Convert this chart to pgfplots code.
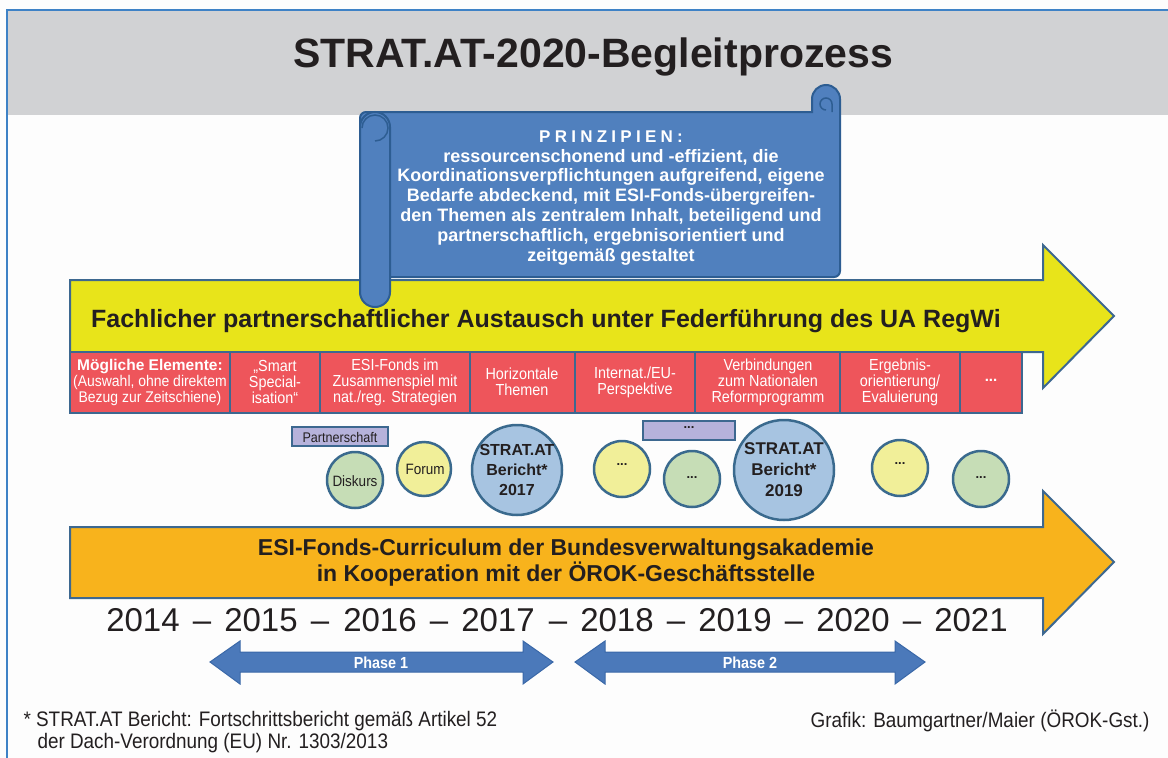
\documentclass[border=0pt]{standalone}
\usepackage{fontspec}
\setmainfont{Liberation Sans}
\newfontfamily\cond[FakeStretch=0.9]{Liberation Sans}
\usepackage{pgfplots}
\pgfplotsset{compat=1.18}
\definecolor{bg}{HTML}{FDFDFD}
\definecolor{hdr}{HTML}{D1D2D4}
\definecolor{frame}{HTML}{3E82C6}
\definecolor{txt}{HTML}{231F20}
\definecolor{yel}{HTML}{E8E41A}
\definecolor{ora}{HTML}{F8B31C}
\definecolor{redb}{HTML}{EE555B}
\definecolor{bord}{HTML}{3D6890}
\definecolor{scroll}{HTML}{5080BE}
\definecolor{scrolld}{HTML}{2D5D92}
\definecolor{cyel}{HTML}{F1EF99}
\definecolor{cgre}{HTML}{C6DDB6}
\definecolor{cblu}{HTML}{A7C4E1}
\definecolor{cbor}{HTML}{3A6A8E}
\definecolor{lav}{HTML}{B6B2DB}
\definecolor{phase}{HTML}{4B79BA}
\definecolor{phased}{HTML}{3A68A8}
\newcommand{\fs}[2]{\fontsize{#1}{#2}\selectfont}
\newcommand{\rbox}[2]{\addplot[fill=redb,draw=bord,line width=2pt] coordinates {(#1,352) (#2,352) (#2,413) (#1,413)} -- cycle;}
\begin{document}
\begin{tikzpicture}
\begin{axis}[width=1168pt,height=758pt,scale only axis,
  xmin=0,xmax=1168,ymin=0,ymax=758,y dir=reverse,
  hide axis,enlargelimits=false,clip=true,clip marker paths=true]

% background, header and frame
\addplot[fill=bg,draw=none] coordinates {(0,0) (1168,0) (1168,758) (0,758)} -- cycle;
\addplot[fill=hdr,draw=none] coordinates {(8,11) (1168,11) (1168,115) (8,115)} -- cycle;
\addplot[draw=frame,line width=1.5pt] coordinates {(7,758) (7,10) (1168,10)};
\node[font=\bfseries\fs{41}{44},text=txt] at (593,57) {STRAT.AT-2020-Begleitprozess};

% yellow arrow
\addplot[fill=yel,draw=bord,line width=2pt] coordinates {(70,280) (1043,280) (1043,245) (1114,316) (1043,388) (1043,352) (70,352)} -- cycle;
\node[font=\bfseries\fs{25}{28},text=txt] at (546,321) {Fachlicher partnerschaftlicher Austausch unter Federführung des UA RegWi};

% scroll
\draw[fill=scroll,draw=scrolld,line width=2pt] (366,112) -- (812,112) -- (812,99)
  arc[start angle=180,end angle=0,radius=14pt] -- (840,271)
  arc[start angle=0,end angle=-90,radius=6pt] -- (366,277)
  arc[start angle=270,end angle=180,radius=6pt] -- (360,118)
  arc[start angle=180,end angle=90,radius=6pt] -- cycle;
\draw[scrolld,line width=1.5pt] (832,112) -- (832,104) arc[start angle=0,end angle=270,radius=6pt];
\draw[fill=scroll,draw=scrolld,line width=2pt] (360,127) -- (360,292)
  arc[start angle=180,end angle=360,radius=15pt] -- (390,127)
  arc[start angle=0,end angle=180,radius=15pt] -- cycle;
\draw[scrolld,line width=1.5pt] (375,141) arc[start angle=-90,end angle=180,radius=13pt];
\node[font=\bfseries\fs{17}{20}\addfontfeature{LetterSpace=25},text=white] at (611,137) {PRINZIPIEN:};
\node[font=\bfseries\fs{18}{19.8},text=white,align=center] at (611,207)
 {ressourcenschonend und -effizient, die\\
  Koordinationsverpflichtungen aufgreifend, eigene\\
  Bedarfe abdeckend, mit ESI-Fonds-übergreifen-\\
  den Themen als zentralem Inhalt, beteiligend und\\
  partnerschaftlich, ergebnisorientiert und\\
  zeitgemäß gestaltet};

% red boxes
\rbox{70}{230}
\rbox{230}{320}
\rbox{320}{470}
\rbox{470}{575}
\rbox{575}{695}
\rbox{695}{840}
\rbox{840}{960}
\rbox{960}{1022}
\node[text=white,align=center,font=\cond\fs{15.5}{16}] at (150,382)
 {{\normalfont\bfseries\fs{15.5}{16}Mögliche Elemente:}\\(Auswahl, ohne direktem\\Bezug zur Zeitschiene)};
\node[text=white,align=center,font=\cond\fs{16}{16}] at (275,382) {„Smart\\Special-\\isation“};
\node[text=white,align=center,font=\cond\fs{16}{16}] at (395,382) {ESI-Fonds im\\Zusammenspiel mit\\nat./reg. Strategien};
\node[text=white,align=center,font=\cond\fs{16}{16}] at (522,382) {Horizontale\\Themen};
\node[text=white,align=center,font=\cond\fs{16}{16}] at (635,382) {Internat./EU-\\Perspektive};
\node[text=white,align=center,font=\cond\fs{16}{16}] at (768,382) {Verbindungen\\zum Nationalen\\Reformprogramm};
\node[text=white,align=center,font=\cond\fs{16}{16}] at (900,382) {Ergebnis-\\orientierung/\\Evaluierung};
\node[text=white,font=\bfseries\fs{15}{16}] at (991,380) {...};

% lavender boxes
\addplot[fill=lav,draw=bord,line width=2pt] coordinates {(292,427) (388,427) (388,446) (292,446)} -- cycle;
\node[text=txt,font=\cond\fs{14}{16}] at (340,437) {Partnerschaft};
\addplot[fill=lav,draw=bord,line width=2pt] coordinates {(643,421) (735,421) (735,440) (643,440)} -- cycle;
\node[text=txt,font=\bfseries\fs{13}{16}] at (689,428) {...};

% circles
\addplot[only marks,mark=*,mark size=28pt,mark options={fill=cgre,draw=cbor,line width=2.5pt}] coordinates {(355,480) (692,479) (981,479)};
\addplot[only marks,mark=*,mark size=27pt,mark options={fill=cyel,draw=cbor,line width=2.5pt}] coordinates {(424,469)};
\addplot[only marks,mark=*,mark size=28pt,mark options={fill=cyel,draw=cbor,line width=2.5pt}] coordinates {(622,469) (900,468)};
\addplot[only marks,mark=*,mark size=45pt,mark options={fill=cblu,draw=cbor,line width=2.5pt}] coordinates {(517,470)};
\addplot[only marks,mark=*,mark size=50pt,mark options={fill=cblu,draw=cbor,line width=2.5pt}] coordinates {(784,470)};
\node[text=txt,font=\cond\fs{15}{17}] at (355,481) {Diskurs};
\node[text=txt,font=\cond\fs{15}{17}] at (425,469) {Forum};
\node[text=txt,align=center,font=\bfseries\fs{16}{20}] at (517,470) {STRAT.AT\\Bericht*\\2017};
\node[text=txt,align=center,font=\bfseries\fs{17}{21}] at (784,470) {STRAT.AT\\Bericht*\\2019};
\node[text=txt,font=\bfseries\fs{13}{15}] at (622,465) {...};
\node[text=txt,font=\bfseries\fs{13}{15}] at (692,478) {...};
\node[text=txt,font=\bfseries\fs{13}{15}] at (900,464) {...};
\node[text=txt,font=\bfseries\fs{13}{15}] at (981,478) {...};

% orange arrow
\addplot[fill=ora,draw=bord,line width=2pt] coordinates {(70,527) (1043,527) (1043,491) (1114,562) (1043,634) (1043,598) (70,598)} -- cycle;
\node[text=txt,align=center,font=\bfseries\fs{23}{26}] at (566,563)
 {ESI-Fonds-Curriculum der Bundesverwaltungsakademie\\in Kooperation mit der ÖROK-Geschäftsstelle};

% years
\node[anchor=base,text=txt,font=\fs{33}{36}] at (143,631) {2014};
\node[anchor=base,text=txt,font=\fs{33}{36}] at (261,631) {2015};
\node[anchor=base,text=txt,font=\fs{33}{36}] at (380,631) {2016};
\node[anchor=base,text=txt,font=\fs{33}{36}] at (498,631) {2017};
\node[anchor=base,text=txt,font=\fs{33}{36}] at (617,631) {2018};
\node[anchor=base,text=txt,font=\fs{33}{36}] at (735,631) {2019};
\node[anchor=base,text=txt,font=\fs{33}{36}] at (853,631) {2020};
\node[anchor=base,text=txt,font=\fs{33}{36}] at (971,631) {2021};
\node[anchor=base,text=txt,font=\fs{33}{36}] at (202,631) {–};
\node[anchor=base,text=txt,font=\fs{33}{36}] at (320,631) {–};
\node[anchor=base,text=txt,font=\fs{33}{36}] at (439,631) {–};
\node[anchor=base,text=txt,font=\fs{33}{36}] at (558,631) {–};
\node[anchor=base,text=txt,font=\fs{33}{36}] at (676,631) {–};
\node[anchor=base,text=txt,font=\fs{33}{36}] at (794,631) {–};
\node[anchor=base,text=txt,font=\fs{33}{36}] at (912,631) {–};

% phase arrows
\addplot[fill=phase,draw=phased,line width=1pt] coordinates {(210,662) (240,641) (240,652) (523,652) (523,641) (553,662) (523,684) (523,672) (240,672) (240,684)} -- cycle;
\addplot[fill=phase,draw=phased,line width=1pt] coordinates {(575,662) (605,641) (605,652) (895,652) (895,641) (925,662) (895,684) (895,672) (605,672) (605,684)} -- cycle;
\node[text=white,font=\cond\bfseries\fs{16}{18}] at (381,663) {Phase 1};
\node[text=white,font=\cond\bfseries\fs{16}{18}] at (750,663) {Phase 2};

% footnotes
\node[anchor=west,text=txt,font=\cond\fs{21}{22}] at (20,721) {* STRAT.AT Bericht: Fortschrittsbericht gemäß Artikel 52};
\node[anchor=west,text=txt,font=\cond\fs{21}{22}] at (34,743) {der Dach-Verordnung (EU) Nr. 1303/2013};
\node[anchor=east,text=txt,font=\cond\fs{21}{22}] at (1153,721) {Grafik: Baumgartner/Maier (ÖROK-Gst.)};
\end{axis}
\end{tikzpicture}
\end{document}
